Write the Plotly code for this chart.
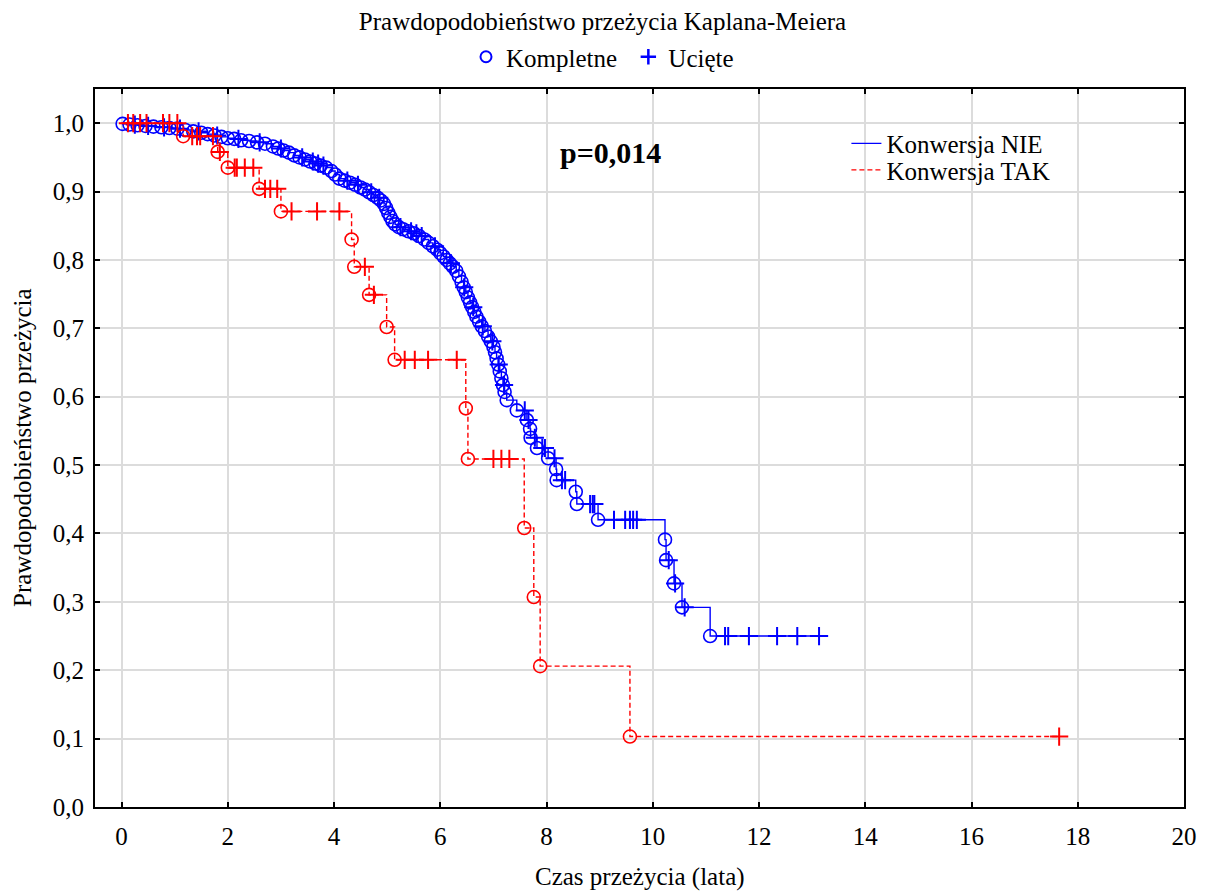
import plotly.graph_objects as go

# ---------------- data ----------------
# Konwersja NIE (blue)
nie_event_t = [0.02, 0.15, 0.3, 0.45, 0.6, 0.75, 0.9, 1.05, 1.2, 1.35, 1.5, 1.62, 1.75, 1.88,
               2.0, 2.12, 2.25, 2.4, 2.55, 2.7, 2.85, 2.95, 3.05, 3.15, 3.25, 3.35, 3.45, 3.55,
               3.65, 3.75, 3.85, 3.95, 4.02, 4.1, 4.2, 4.3, 4.4, 4.5, 4.58, 4.66, 4.74, 4.82,
               4.88, 4.94, 4.98, 5.02, 5.06, 5.1, 5.15, 5.22, 5.3, 5.4, 5.5, 5.6, 5.7, 5.78,
               5.86, 5.94, 6.0, 6.06, 6.12, 6.18, 6.24, 6.3, 6.35, 6.4, 6.44, 6.48, 6.52, 6.56,
               6.6, 6.64, 6.68, 6.73, 6.78, 6.84, 6.9, 6.95, 7.0, 7.03, 7.06, 7.09, 7.12, 7.15,
               7.18, 7.21, 7.25, 7.44, 7.63, 7.69, 7.70, 7.82, 8.03, 8.18, 8.19, 8.55, 8.57,
               8.97, 10.23, 10.25, 10.40, 10.55, 11.08]
nie_event_s = [0.999, 0.998, 0.997, 0.996, 0.995, 0.994, 0.993, 0.992, 0.990, 0.988, 0.986,
               0.984, 0.982, 0.980, 0.978, 0.977, 0.975, 0.974, 0.972, 0.970, 0.966, 0.963,
               0.960, 0.957, 0.953, 0.950, 0.947, 0.944, 0.941, 0.938, 0.935, 0.930, 0.925,
               0.919, 0.916, 0.913, 0.910, 0.906, 0.903, 0.899, 0.895, 0.891, 0.887, 0.882,
               0.876, 0.869, 0.863, 0.857, 0.852, 0.848, 0.845, 0.842, 0.839, 0.835, 0.830,
               0.825, 0.820, 0.815, 0.810, 0.805, 0.800, 0.795, 0.790, 0.784, 0.776, 0.768,
               0.760, 0.753, 0.745, 0.738, 0.731, 0.724, 0.717, 0.710, 0.703, 0.696, 0.688,
               0.681, 0.673, 0.665, 0.656, 0.647, 0.637, 0.627, 0.617, 0.607, 0.595, 0.580,
               0.566, 0.553, 0.540, 0.525, 0.510, 0.494, 0.478, 0.461, 0.443, 0.420, 0.391,
               0.361, 0.327, 0.292, 0.250]
nie_cens_t = [0.25, 0.5, 0.8, 1.1, 1.45, 1.8, 2.2, 2.6, 3.0, 3.4, 3.6, 3.7, 3.8, 4.25, 4.45,
              4.7, 4.85, 5.25, 5.45, 5.55, 5.65, 5.9, 6.2, 6.45, 6.62, 6.8, 6.98, 7.1, 7.2,
              7.59, 7.66, 7.78, 7.92, 7.97, 8.15, 8.29, 8.35, 8.82, 8.87, 8.9, 9.27, 9.48,
              9.57, 9.63, 9.70, 10.30, 10.42, 10.6, 11.36, 11.42, 11.81, 12.34, 12.72, 13.13]
nie_cens_s = [0.998, 0.996, 0.994, 0.992, 0.988, 0.982, 0.977, 0.972, 0.963, 0.950, 0.944,
              0.941, 0.938, 0.916, 0.910, 0.899, 0.891, 0.848, 0.842, 0.839, 0.835, 0.820,
              0.795, 0.760, 0.731, 0.703, 0.681, 0.647, 0.617, 0.580, 0.566, 0.540, 0.525,
              0.525, 0.510, 0.478, 0.478, 0.443, 0.443, 0.443, 0.420, 0.420, 0.420, 0.420,
              0.420, 0.361, 0.327, 0.292, 0.250, 0.250, 0.250, 0.250, 0.250, 0.250]

# Konwersja TAK (red)
tak_event_t = [1.16, 1.81, 2.0, 2.59, 3.0, 4.33, 4.38, 4.66, 4.99, 5.14, 6.48, 6.52, 7.58,
               7.76, 7.88, 9.57]
tak_event_s = [0.981, 0.958, 0.935, 0.904, 0.871, 0.830, 0.790, 0.749, 0.702, 0.654, 0.583,
               0.509, 0.408, 0.307, 0.206, 0.103]
tak_cens_t = [0.12, 0.22, 0.35, 0.47, 0.78, 0.9, 1.05, 1.33, 1.42, 1.48, 1.72, 1.85, 2.13,
              2.17, 2.32, 2.48, 2.70, 2.80, 2.93, 3.2, 3.68, 4.1, 4.58, 4.75, 5.33, 5.52,
              5.77, 6.31, 7.0, 7.15, 7.3, 17.65]
tak_cens_s = [1.0, 1.0, 1.0, 1.0, 1.0, 1.0, 1.0, 0.981, 0.981, 0.981, 0.981, 0.958, 0.935,
              0.935, 0.935, 0.935, 0.904, 0.904, 0.904, 0.871, 0.871, 0.871, 0.790, 0.749,
              0.654, 0.654, 0.654, 0.654, 0.509, 0.509, 0.509, 0.103]

x_ticks = [0, 2, 4, 6, 8, 10, 12, 14, 16, 18, 20]
y_ticks = [0.0, 0.1, 0.2, 0.3, 0.4, 0.5, 0.6, 0.7, 0.8, 0.9, 1.0]
y_tick_text = ["0,0", "0,1", "0,2", "0,3", "0,4", "0,5", "0,6", "0,7", "0,8", "0,9", "1,0"]

BLUE = "#0000ff"
RED = "#ff0000"
FONT = "Liberation Serif, Times New Roman, serif"
FS = 25


def step_points(et, es, ct, cs):
    pts = sorted(list(zip(et, es)) + list(zip(ct, cs)), key=lambda p: (p[0], -p[1]))
    return [0.0] + [p[0] for p in pts], [1.0] + [p[1] for p in pts]


fig = go.Figure()

groups = [
    ("Konwersja NIE", nie_event_t, nie_event_s, nie_cens_t, nie_cens_s, BLUE, "solid", "legend"),
    ("Konwersja TAK", tak_event_t, tak_event_s, tak_cens_t, tak_cens_s, RED, "5px,3px", "legend3"),
]

for name, et, es, ct, cs, col, dash, lg in groups:
    lx, ly = step_points(et, es, ct, cs)
    fig.add_trace(go.Scatter(x=lx, y=ly, mode="lines", line_shape="hv",
                             line=dict(color=col, width=1.4, dash=dash),
                             name=name, legend=lg, hoverinfo="skip"))
    fig.add_trace(go.Scatter(x=et, y=es, mode="markers", showlegend=False,
                             marker=dict(symbol="circle-open", size=13, color=col,
                                         line=dict(width=1.6, color=col))))
    fig.add_trace(go.Scatter(x=ct, y=cs, mode="markers", showlegend=False,
                             marker=dict(symbol="cross-thin-open", size=13, color=col,
                                         line=dict(width=2, color=col))))

# marker-type legend
fig.add_trace(go.Scatter(x=[None], y=[None], mode="markers", name="Kompletne ", legend="legend2",
                         marker=dict(symbol="circle-open", size=11, color=BLUE,
                                     line=dict(width=2, color=BLUE))))
fig.add_trace(go.Scatter(x=[None], y=[None], mode="markers", name="Ucięte", legend="legend2",
                         marker=dict(symbol="cross-thin-open", size=11, color=BLUE,
                                     line=dict(width=2.5, color=BLUE))))

fig.add_annotation(x=9.2, y=0.957, text="<b>p=0,014</b>", showarrow=False,
                   font=dict(family=FONT, size=30, color="black"),
                   xanchor="center", yanchor="middle")

# axis titles
fig.add_annotation(x=0.5, y=0, xref="paper", yref="paper", yshift=-70,
                   text="Czas przeżycia (lata)", showarrow=False,
                   font=dict(family=FONT, size=FS, color="black"),
                   xanchor="center", yanchor="middle")
fig.add_annotation(x=0, y=0.5, xref="paper", yref="paper", xshift=-73,
                   text="Prawdopodobieństwo przeżycia", showarrow=False, textangle=-90,
                   font=dict(family=FONT, size=FS, color="black"),
                   xanchor="center", yanchor="middle")

axis_common = dict(showline=True, linecolor="black", linewidth=2, mirror="ticks",
                   ticks="inside", ticklen=5, tickwidth=1.5, tickcolor="black",
                   showgrid=True, gridcolor="#dcdcdc", gridwidth=2, zeroline=False,
                   automargin=False,
                   tickfont=dict(family=FONT, size=FS, color="black"))

fig.update_xaxes(range=[-0.5, 20], tickvals=x_ticks, ticktext=[str(v) for v in x_ticks],
                 ticklabelstandoff=6, **axis_common)
fig.update_yaxes(range=[0, 1.05], tickvals=y_ticks, ticktext=y_tick_text,
                 ticklabelstandoff=4, **axis_common)

leg_common = dict(xanchor="left", yanchor="top", bgcolor="rgba(0,0,0,0)",
                  font=dict(family=FONT, size=FS, color="black"), itemwidth=30)

fig.update_layout(
    width=1205, height=891,
    margin=dict(l=95, r=21, t=89, b=84, pad=0, autoexpand=False),
    paper_bgcolor="white", plot_bgcolor="white",
    font=dict(family=FONT, size=FS, color="black"),
    title=dict(text="Prawdopodobieństwo przeżycia Kaplana-Meiera", x=0.5, xanchor="center",
               xref="container", yref="container", y=1 - 21 / 891, yanchor="middle",
               font=dict(family=FONT, size=FS, color="black")),
    legend=dict(x=0.690, y=0.956, **leg_common),
    legend3=dict(x=0.690, y=0.919, **leg_common),
    legend2=dict(orientation="h", xref="container", yref="container", x=0.50, y=1 - 57 / 891,
                 xanchor="center", yanchor="middle", bgcolor="rgba(0,0,0,0)",
                 font=dict(family=FONT, size=FS, color="black")),
    showlegend=True,
)

fig.write_html("out.html")
